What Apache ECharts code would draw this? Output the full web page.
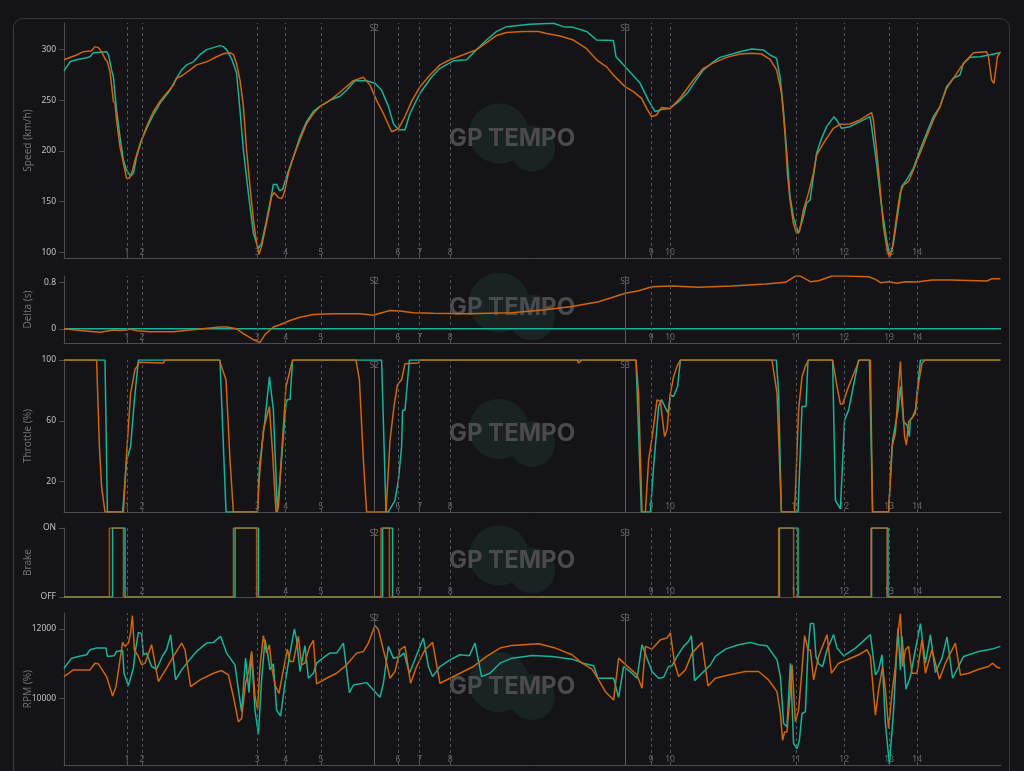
<!DOCTYPE html>
<html><head><meta charset="utf-8">
<script src="https://cdn.jsdelivr.net/npm/echarts@6/dist/echarts.min.js"></script>
<style>
html,body{margin:0;padding:0;background:#141417;width:1024px;height:771px;overflow:hidden;}
#card{position:absolute;left:13px;top:18px;width:997px;height:800px;border:1px solid #38383d;border-radius:10px;box-sizing:border-box;}
#chart{position:absolute;left:0;top:0;width:1024px;height:771px;}
</style></head><body><div id="card"></div><div id="chart"></div>
<script>
// ---------- data (distance in metres, value) ----------
const LAP_LENGTH = 4685;
const turnNames = ['1','2','3','4','5','6','7','8','9','10','11','12','13','14'];
const turnDist = [315,390,966,1108,1285,1670,1778,1931,2936,3030,3660,3901,4126,4266];
const sectorNames = ['S2','S3'];
const sectorDist = [1551,2805];

const speedTicks = [100,150,200,250,300];
const deltaTicks = [0,0.8];
const throttleTicks = [20,60,100];
const brakeTicks = [0,1];
const rpmTicks = [10000,12000];

const speedOrange = [[0,290],[63,294.7],[97,298],[138,299],[155,303],[172,302],[188,298],[205,291],[217,288],[230,278],[247,249],[255,247],[263,230],[280,204],[297,188],[313,173],[327,173],[343,181],[355,191],[380,207],[413,224],[447,239],[480,249],[513,257],[547,265],[563,272],[588,274],[630,280],[663,285],[713,288],[763,293],[797,296],[830,297],[847,295],[863,286],[880,270],[897,244],[913,201],[930,165],[947,132],[963,109],[975,98],[988,106],[1005,122],[1022,138],[1038,155],[1050,159],[1072,154],[1088,153],[1100,158],[1122,178],[1147,194],[1180,211],[1213,227],[1247,237],[1280,244],[1330,250],[1380,258],[1447,269.4],[1497,272.7],[1530,265],[1563,250],[1597,237],[1638,219],[1672,222],[1705,234],[1738,249],[1780,263.5],[1830,275],[1880,285],[1930,290],[1997,295],[2063,300],[2113,307],[2163,314],[2213,317],[2297,318],[2372,318],[2413,316],[2480,313.5],[2547,309.5],[2613,301],[2663,290],[2713,283],[2747,275],[2805,263.5],[2847,258.5],[2888,252],[2913,242],[2938,234],[2963,235.5],[2988,243],[3030,242],[3080,252],[3147,270],[3197,281.6],[3247,287],[3313,292.4],[3380,295.7],[3438,296.4],[3488,295.7],[3530,290.5],[3563,280],[3588,257],[3605,217.4],[3617,177.9],[3630,151.6],[3647,128.6],[3663,118.8],[3677,120.4],[3697,141.8],[3722,158.2],[3747,177.9],[3763,196],[3797,207.6],[3830,217.4],[3847,222.4],[3880,226.3],[3930,226.6],[3980,230.6],[4038,237.8],[4047,230.6],[4063,201],[4080,164.8],[4097,125.3],[4113,105.6],[4127,95.1],[4143,105.6],[4163,135.2],[4180,158.2],[4197,166.4],[4222,169.7],[4247,181.2],[4280,197.7],[4313,214.1],[4347,230.6],[4380,243.8],[4413,261.8],[4447,271.7],[4480,281.6],[4513,289.8],[4547,297],[4613,298],[4622,293],[4638,270],[4650,266.8],[4667,293],[4683,298]];
const speedTeal = [[0,279],[30,288],[63,290],[113,292],[130,293],[147,297],[213,298],[222,295],[238,280],[247,273],[263,240],[280,214],[297,191],[313,181],[333,175],[347,178],[363,194],[388,211],[413,222],[447,236],[480,247],[530,260],[563,272],[588,280],[613,285],[647,288],[680,295],[713,300],[747,302],[780,304],[797,303],[813,300],[838,291],[863,277],[880,240],[897,201],[922,158],[947,119],[963,109],[972,104],[988,109],[1013,132],[1033,152],[1047,167],[1063,167],[1077,161],[1093,162],[1113,175],[1147,194],[1180,214],[1213,229],[1247,239],[1280,244],[1330,250],[1380,254],[1413,260],[1455,269.4],[1513,269.4],[1555,266.8],[1588,260],[1622,244],[1647,227],[1672,221],[1705,221],[1730,237],[1780,257],[1838,273],[1880,281.6],[1947,289],[2013,290],[2063,300],[2113,309.5],[2163,318],[2213,322.7],[2330,325],[2447,326],[2497,322.7],[2547,322],[2613,318],[2663,309.5],[2747,309],[2760,293],[2797,285],[2830,278],[2880,267],[2922,250],[2955,239],[2988,241],[3030,242],[3080,250],[3122,258.5],[3155,268.4],[3197,280],[3247,288],[3280,292.4],[3380,298],[3438,300.7],[3497,299.7],[3530,294.7],[3563,291.4],[3580,273.4],[3597,240.5],[3613,201],[3630,155],[3647,135],[3672,118.8],[3693,132],[3713,148.5],[3730,151.6],[3747,174.7],[3763,197.7],[3788,212.5],[3813,224],[3850,233.9],[3863,230.6],[3888,222.4],[3930,224],[3980,229],[4030,233.9],[4038,224],[4063,187.8],[4088,145],[4113,112.2],[4130,95.7],[4147,108.9],[4172,141.8],[4188,164.8],[4213,171.4],[4247,182.9],[4280,201],[4313,217.4],[4347,233.9],[4380,243.8],[4413,263.5],[4447,271.7],[4480,275],[4497,286.5],[4530,292.4],[4580,293],[4680,297]];

const deltaOrange = [[0,0],[80,-0.03],[180,-0.06],[247,-0.02],[280,-0.03],[313,-0.02],[330,-0.005],[363,-0.035],[430,-0.05],[547,-0.05],[680,-0.005],[780,0.03],[813,0.03],[863,0],[897,-0.086],[947,-0.19],[980,-0.236],[1005,-0.1],[1047,0.03],[1080,0.07],[1130,0.144],[1180,0.2],[1247,0.247],[1347,0.26],[1480,0.26],[1547,0.236],[1580,0.27],[1630,0.317],[1680,0.31],[1747,0.28],[1847,0.27],[2013,0.26],[2240,0.28],[2407,0.33],[2540,0.386],[2673,0.47],[2807,0.616],[2873,0.66],[2940,0.73],[3040,0.742],[3173,0.72],[3340,0.742],[3507,0.777],[3607,0.806],[3657,0.915],[3682,0.915],[3732,0.817],[3773,0.835],[3840,0.915],[3907,0.915],[4023,0.904],[4057,0.858],[4082,0.8],[4123,0.817],[4165,0.79],[4207,0.817],[4265,0.81],[4340,0.846],[4440,0.846],[4615,0.83],[4640,0.87],[4682,0.87]];
const deltaTeal = [[0,0],[4685,0]];

const throttleOrange = [[0,100],[163,100],[177,43],[188,16.5],[205,0],[297,0],[313,38.5],[333,78],[355,93.6],[377,98.5],[497,98],[505,100],[777,100],[793,93.6],[810,87],[830,34],[847,0],[967,0],[977,23],[997,54],[1027,69.4],[1043,38.5],[1060,0],[1072,3],[1088,38.5],[1110,82.6],[1143,100],[1460,100],[1477,87],[1497,34],[1513,0],[1610,0],[1630,47],[1650,69.4],[1667,83.7],[1688,87],[1705,97.6],[1772,98],[1780,100],[2565,100],[2573,98],[2590,100],[2860,100],[2873,78],[2890,0],[2907,0],[2923,34],[2948,56],[2965,73.8],[2982,72.7],[3003,49.6],[3015,54],[3032,78],[3048,89],[3065,95.8],[3082,100],[3540,100],[3565,78],[3587,0],[3653,0],[3673,67],[3690,89],[3707,96],[3723,100],[3843,100],[3865,82.6],[3882,71],[3893,71],[3923,82.6],[3957,93.6],[3977,100],[4032,100],[4043,0],[4123,0],[4140,43],[4157,51.8],[4170,78],[4182,99],[4190,78],[4203,49.6],[4212,44],[4223,59.5],[4240,61.7],[4257,67],[4273,84.8],[4290,98],[4307,100],[4682,100]];
const throttleTeal = [[0,100],[205,100],[217,0],[293,0],[313,34],[333,43],[352,73.8],[372,100],[780,100],[810,0],[967,0],[977,29.7],[1005,60.6],[1027,89],[1047,67],[1067,0],[1077,0],[1110,71.6],[1117,74],[1130,74],[1143,100],[1588,100],[1610,0],[1622,0],[1655,7.7],[1672,21],[1688,43],[1693,67],[1705,67],[1727,100],[2860,100],[2887,0],[2932,0],[2948,29.7],[2965,56],[2973,69.4],[2987,74],[3020,65],[3032,77],[3048,76],[3068,82.6],[3082,100],[3562,100],[3573,78],[3587,0],[3670,0],[3690,69.4],[3710,69.4],[3720,100],[3843,100],[3857,7.7],[3882,2],[3903,60.6],[3923,67],[3973,100],[4027,100],[4043,0],[4123,0],[4143,47],[4170,67],[4182,82.6],[4198,59.5],[4215,57],[4227,49.6],[4232,60.6],[4257,65],[4265,78],[4282,100],[4682,100]];

const brakeOrangeOn = [[227,297],[847,963],[1585,1627],[3573,3648],[4035,4115]];
const brakeTealOn = [[243,305],[855,972],[1593,1643],[3577,3670],[4038,4120]];

const rpmOrange = [[0,10628],[47,10821],[130,10821],[155,11014],[172,10995],[213,10628],[243,10068],[260,10338],[293,11613],[305,11498],[322,11594],[333,11884],[342,12387],[352,11401],[372,11208],[388,10966],[405,11014],[438,11546],[472,10483],[513,10870],[547,11208],[588,11594],[605,11401],[633,10338],[680,10531],[747,10725],[788,10802],[822,10676],[847,10048],[872,9324],[888,9420],[908,10435],[925,10821],[938,11353],[955,10048],[968,9690],[980,10918],[997,11807],[1013,11304],[1027,11546],[1038,10918],[1055,10386],[1075,10145],[1097,10821],[1117,11420],[1130,11063],[1147,11063],[1172,11787],[1188,10966],[1205,11014],[1227,11478],[1247,11672],[1263,10415],[1313,10580],[1363,10725],[1413,10966],[1463,11304],[1497,11353],[1522,11594],[1555,12097],[1572,11981],[1613,11014],[1630,10580],[1655,10773],[1680,11401],[1705,11498],[1733,10435],[1763,10918],[1805,11401],[1843,11613],[1880,10435],[1930,10580],[1980,10725],[2047,10918],[2113,11208],[2180,11449],[2240,11527],[2373,11575],[2457,11449],[2540,11256],[2590,11014],[2640,10841],[2673,10531],[2707,10193],[2748,9952],[2773,11159],[2815,10937],[2865,10676],[2890,10290],[2907,11498],[2940,11420],[2982,11691],[3015,11739],[3032,11884],[3053,11014],[3073,10628],[3107,10821],[3140,11304],[3190,11613],[3220,10357],[3257,10580],[3323,10676],[3407,10773],[3473,10773],[3523,10531],[3565,10193],[3582,9565],[3593,8792],[3603,9034],[3615,9034],[3632,10242],[3640,10966],[3657,9324],[3673,9662],[3690,10821],[3703,11807],[3720,11401],[3732,11401],[3748,10531],[3773,11208],[3815,11836],[3837,10725],[3873,11014],[3907,11092],[3973,11256],[4015,11401],[4032,11208],[4057,9517],[4073,10242],[4093,10918],[4107,10242],[4123,9130],[4140,10145],[4157,10918],[4168,11787],[4182,12445],[4193,10918],[4207,11401],[4223,11498],[4240,10725],[4265,10725],[4290,11691],[4307,10725],[4340,11401],[4377,10551],[4407,11014],[4457,11594],[4482,10676],[4523,10725],[4573,10841],[4623,10918],[4643,11014],[4665,10899],[4682,10870]];
const rpmTeal = [[0,10870],[38,11159],[72,11208],[113,11256],[130,11401],[163,11449],[210,11449],[217,11208],[250,11227],[263,11353],[293,11382],[300,10725],[322,10367],[347,10870],[355,11304],[372,11903],[388,11865],[397,11256],[413,11304],[438,10918],[463,10841],[493,11227],[513,11401],[533,11836],[558,10531],[588,10821],[630,11130],[663,11353],[713,11594],[747,11613],[783,11787],[813,11304],[855,10966],[872,10242],[888,9614],[908,11159],[925,10164],[938,11304],[955,9662],[972,8966],[988,10531],[1005,11691],[1018,11304],[1030,10821],[1047,10995],[1063,9662],[1083,9488],[1105,10435],[1130,11304],[1152,12000],[1163,11691],[1180,10773],[1205,11517],[1222,10580],[1247,10725],[1263,11014],[1305,11208],[1330,11304],[1363,11304],[1397,11594],[1427,10164],[1447,10386],[1513,10454],[1547,10242],[1580,10029],[1597,10435],[1622,11498],[1647,11159],[1680,11208],[1700,11304],[1727,10725],[1747,11014],[1797,11739],[1822,10918],[1843,10628],[1880,10918],[1930,11111],[1980,11256],[2027,11227],[2055,11594],[2088,10628],[2130,10725],[2180,11014],[2240,11159],[2340,11237],[2440,11208],[2540,11130],[2607,10995],[2648,10937],[2670,10580],[2748,10580],[2773,10029],[2798,10918],[2840,10725],[2865,10580],[2890,11546],[2915,11159],[2940,10773],[2973,10580],[2998,10609],[3023,10918],[3040,10937],[3065,11208],[3098,11498],[3123,11643],[3137,11807],[3153,10512],[3190,10725],[3232,10966],[3257,11208],[3307,11420],[3373,11546],[3432,11613],[3473,11546],[3515,11517],[3565,11111],[3582,10628],[3598,9275],[3615,9179],[3632,11014],[3648,8696],[3665,8551],[3677,8792],[3690,9565],[3707,9614],[3720,11401],[3732,12155],[3748,12155],[3760,11208],[3773,10995],[3793,10918],[3815,11401],[3848,11836],[3865,11449],[3898,11227],[3957,11449],[4032,11836],[4057,10676],[4073,10821],[4090,11256],[4107,9275],[4127,8097],[4148,9662],[4170,12029],[4182,10821],[4190,11787],[4210,10261],[4232,10628],[4257,11401],[4282,12155],[4307,11014],[4332,11836],[4357,10744],[4390,11159],[4415,11768],[4443,10580],[4498,11208],[4540,11285],[4573,11353],[4640,11420],[4682,11498]];

// ---------- layout & styles ----------
const ORANGE = '#d0650e';
const TEAL = '#19b29a';
const AXIS = '#4b4b50';
const FONT = 'Noto Sans';
const panels = [
  {name:'Speed (km/h)', top:23, height:235, min:94.4, max:326.3, ticks:speedTicks, fmt:v=>String(v)},
  {name:'Delta (s)', top:276, height:67, min:-0.247, max:0.916, ticks:deltaTicks, fmt:v=>String(v)},
  {name:'Throttle (%)', top:360, height:152, min:0, max:100, ticks:throttleTicks, fmt:v=>String(v)},
  {name:'Brake', top:528, height:69, min:0, max:1, ticks:brakeTicks, fmt:v=>v===1?'ON':'OFF'},
  {name:'RPM (%)', top:613, height:152, min:8080, max:12460, ticks:rpmTicks, fmt:v=>String(v)}
];

function brakeSteps(intervals){
  const out=[[0,0]];
  intervals.forEach(([a,b])=>{out.push([a,0],[a,1],[b,1],[b,0]);});
  out.push([LAP_LENGTH,0]);
  return out;
}

const seriesPairs = [
  [speedTeal, speedOrange],
  [deltaTeal, deltaOrange],
  [throttleTeal, throttleOrange],
  [brakeSteps(brakeTealOn), brakeSteps(brakeOrangeOn)],
  [rpmTeal, rpmOrange]
];

const grid=[], xAxis=[], yAxis=[], series=[], graphic=[];
panels.forEach((p,i)=>{
  grid.push({left:64, right:23, top:p.top, height:p.height, containLabel:false, outerBoundsMode:'none'});
  xAxis.push({gridIndex:i, type:'value', min:0, max:LAP_LENGTH,
    axisLine:{show:true, onZero:false, lineStyle:{color:AXIS, width:1}},
    axisTick:{show:false}, axisLabel:{show:false}, splitLine:{show:false}});
  yAxis.push({gridIndex:i, type:'value', min:p.min, max:p.max,
    name:p.name, nameLocation:'middle', nameGap:31, nameMoveOverlap:false,
    nameTextStyle:{color:'#6f6f74', fontSize:10, fontFamily:FONT},
    axisLine:{show:true, onZero:false, lineStyle:{color:AXIS}},
    axisTick:{show:true, length:5, customValues:p.ticks, lineStyle:{color:AXIS}},
    axisLabel:{customValues:p.ticks, color:'#c2c2c6', fontSize:8.5, fontFamily:FONT, formatter:p.fmt},
    splitLine:{show:false}});
  const [tData,oData] = seriesPairs[i];
  series.push({type:'line', xAxisIndex:i, yAxisIndex:i, data:tData, showSymbol:false, symbol:'none',
    lineStyle:{color:TEAL, width:1.5}, itemStyle:{color:TEAL}, animation:false, silent:true, z:3});
  series.push({type:'line', xAxisIndex:i, yAxisIndex:i, data:oData, showSymbol:false, symbol:'none',
    lineStyle:{color:ORANGE, width:1.5, opacity: i===3?0.78:1}, itemStyle:{color:ORANGE}, animation:false, silent:true, z:4});
  // turn labels + dashed turn lines
  series.push({type:'scatter', xAxisIndex:i, yAxisIndex:i, symbolSize:1, silent:true, animation:false, z:2,
    itemStyle:{color:'transparent'},
    data:turnDist.map((d,k)=>({value:[d,p.min], name:turnNames[k]})),
    label:{show:true, position:'top', distance:0, formatter:'{b}', color:'#808085', fontSize:8.5, fontFamily:FONT},
    markLine:{silent:true, animation:false, symbol:['none','none'], label:{show:false},
      lineStyle:{color:'#55555a', type:[3,3], width:1},
      data:turnDist.map(d=>({xAxis:d}))}});
  // sector labels + solid lines
  series.push({type:'scatter', xAxisIndex:i, yAxisIndex:i, symbolSize:1, silent:true, animation:false, z:2,
    itemStyle:{color:'transparent'},
    data:sectorDist.map((d,k)=>({value:[d,p.max], name:sectorNames[k]})),
    label:{show:true, position:'bottom', distance:1, formatter:'{b}', color:'#808085', fontSize:8.5, fontFamily:FONT},
    markLine:{silent:true, animation:false, symbol:['none','none'], label:{show:false},
      lineStyle:{color:'#5a5a5f', type:'solid', width:1},
      data:sectorDist.map(d=>({xAxis:d}))}});
  // watermark
  const cy = p.top + p.height/2 - 2;
  graphic.push({type:'group', x:512, y:cy, z:0, silent:true, children:[
    {type:'circle', shape:{cx:-13, cy:-5, r:30}, style:{fill:'#1a2324'}},
    {type:'circle', shape:{cx:20, cy:10, r:23}, style:{fill:'#1a2324'}},
    {type:'text', x:0, y:0, style:{text:'GP TEMPO', fill:'#4b4b4f', font:'bold 24px Inter', textAlign:'center', textVerticalAlign:'middle'}}
  ]});
});

const chart = echarts.init(document.getElementById('chart'), null, {renderer:'canvas'});
chart.setOption({
  backgroundColor:'transparent',
  animation:false,
  grid, xAxis, yAxis, series, graphic
});
</script></body></html>
